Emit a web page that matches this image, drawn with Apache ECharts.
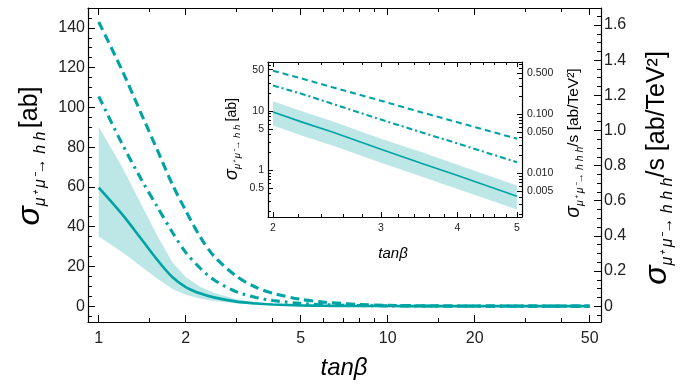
<!DOCTYPE html>
<html><head><meta charset="utf-8">
<script src="https://cdn.jsdelivr.net/npm/echarts@6/dist/echarts.min.js"></script>
<style>html,body{margin:0;padding:0;background:#fff}#c{width:680px;height:390px}</style>
</head><body><div id="c"></div>
<script>
// ---- data ----
const tanBeta = [1, 1.2, 1.4, 1.6, 1.8, 2, 2.25, 2.5, 3, 3.5, 4, 5, 6, 7, 8, 10, 15, 20, 30, 50];
// sigma(mu+ mu- -> h h) [ab]  (solid line + band, left axes)
const sigmaHH      = [59.6, 46.5, 34, 23, 14.5, 9.6, 6.3, 4.4, 2.25, 1.3, 0.81, 0.36, 0.18, 0.1, 0.06, 0.025, 0.006, 0.002, 0.0005, 0.0001];
const sigmaHHUpper = [90.3, 70.5, 51.5, 35, 22, 14.6, 9.6, 6.7, 3.4, 2.0, 1.23, 0.55, 0.27, 0.15, 0.09, 0.04, 0.009, 0.003, 0.0008, 0.0002];
const sigmaHHLower = [35, 27.4, 20, 13.6, 8.6, 5.7, 3.7, 2.6, 1.33, 0.77, 0.48, 0.215, 0.11, 0.06, 0.036, 0.015, 0.0036, 0.0012, 0.0003, 0.00006];
// sigma(mu+ mu- -> h h h)/s [ab/TeV^2] (dashed / dot-dashed, right axes)
const sigmaHHHDashed  = [1.617, 1.348, 1.099, 0.883, 0.691, 0.544, 0.391, 0.286, 0.169, 0.107, 0.073, 0.0385, 0.0226, 0.0147, 0.0096, 0.0045, 0.0011, 0.00045, 0.00011, 0.00002];
const sigmaHHHDotDash = [1.194, 0.929, 0.725, 0.561, 0.419, 0.306, 0.214, 0.150, 0.081, 0.049, 0.032, 0.0154, 0.0085, 0.0051, 0.0034, 0.0015, 0.00034, 0.00014, 0.00003, 0.000008];

// ticks
const mainXTicks = [1, 2, 5, 10, 20, 50];
const mainXMinor = [1.5, 3, 4, 6, 7, 8, 9, 15, 30, 40];
const mainLeftTicks = [0, 20, 40, 60, 80, 100, 120, 140];
const mainLeftMinor = [-5, 5, 10, 15, 25, 30, 35, 45, 50, 55, 65, 70, 75, 85, 90, 95, 105, 110, 115, 125, 130, 135, 145];
const mainRightTicks = [0, 0.2, 0.4, 0.6, 0.8, 1.0, 1.2, 1.4, 1.6];
const mainRightMinor = [-0.05, 0.05, 0.1, 0.15, 0.25, 0.3, 0.35, 0.45, 0.5, 0.55, 0.65, 0.7, 0.75, 0.85, 0.9, 0.95, 1.05, 1.1, 1.15, 1.25, 1.3, 1.35, 1.45, 1.5, 1.55, 1.65];
const insetXTicks = [2, 3, 4, 5];
const insetXMinor = [2.2, 2.4, 2.6, 2.8, 3.2, 3.4, 3.6, 3.8, 4.2, 4.4, 4.6, 4.8];
const insetLeftTicks = [0.5, 1, 5, 10, 50];
const insetLeftMinor = [0.2, 0.3, 0.4, 0.6, 0.7, 0.8, 0.9, 2, 3, 4, 6, 7, 8, 9, 20, 30, 40, 60];
const insetRightTicks = [0.005, 0.01, 0.05, 0.1, 0.5];
const insetRightMinor = [0.002, 0.003, 0.004, 0.006, 0.007, 0.008, 0.009, 0.02, 0.03, 0.04, 0.06, 0.07, 0.08, 0.09, 0.2, 0.3, 0.4, 0.6, 0.7];

// ---- style ----
const TEAL = '#00a3a3';
const BAND = 'rgba(0,163,163,0.26)';
const FONT = 'Liberation Sans';

const chart = echarts.init(document.getElementById('c'), null, {renderer: 'canvas'});

function mkAxis(opts) {
  const o = {
    type: opts.type, gridIndex: opts.grid, position: opts.position,
    min: opts.min, max: opts.max,
    axisLine: {show: !!opts.line, onZero: false, lineStyle: {color: '#000', width: 1.2}},
    axisTick: {show: true, inside: true, length: opts.len, customValues: opts.ticks, lineStyle: {color: '#000', width: 1}},
    axisLabel: opts.label ? Object.assign({show: true, customValues: opts.ticks, color: '#222', fontFamily: FONT}, opts.label) : {show: false},
    splitLine: {show: false}
  };
  if (opts.type === 'log') o.logBase = 10;
  return o;
}

const mainX = {type: 'log', grid: 0, min: 0.918, max: 54.7};
const mainL = {type: 'value', grid: 0, min: -8, max: 150};
const mainR = {type: 'value', grid: 0, min: -0.0905, max: 1.697};
const inX = {type: 'log', grid: 1, min: 1.963, max: 5.096};
const inL = {type: 'log', grid: 1, min: 0.161, max: 67.5};
const inR = {type: 'log', grid: 1, min: 0.00182, max: 0.764};

const xAxis = [
  mkAxis(Object.assign({}, mainX, {position: 'bottom', ticks: mainXTicks, len: 7, line: true, label: {fontSize: 16, margin: 9}})),
  mkAxis(Object.assign({}, mainX, {position: 'bottom', ticks: mainXMinor, len: 4})),
  mkAxis(Object.assign({}, mainX, {position: 'top', ticks: mainXTicks, len: 7, line: true})),
  mkAxis(Object.assign({}, mainX, {position: 'top', ticks: mainXMinor, len: 4})),
  mkAxis(Object.assign({}, inX, {position: 'bottom', ticks: insetXTicks, len: 5, line: true, label: {fontSize: 10.5, margin: 6}})),
  mkAxis(Object.assign({}, inX, {position: 'bottom', ticks: insetXMinor, len: 3})),
  mkAxis(Object.assign({}, inX, {position: 'top', ticks: insetXTicks, len: 5, line: true})),
  mkAxis(Object.assign({}, inX, {position: 'top', ticks: insetXMinor, len: 3}))
];
const yAxis = [
  mkAxis(Object.assign({}, mainL, {position: 'left', ticks: mainLeftTicks, len: 7, line: true, label: {fontSize: 16, margin: 3}})),
  mkAxis(Object.assign({}, mainL, {position: 'left', ticks: mainLeftMinor, len: 4})),
  mkAxis(Object.assign({}, mainR, {position: 'right', ticks: mainRightTicks, len: 7, line: true,
    label: {fontSize: 16, margin: 3, formatter: v => (Math.abs(v) < 1e-9 ? '0' : v.toFixed(1))}})),
  mkAxis(Object.assign({}, mainR, {position: 'right', ticks: mainRightMinor, len: 4})),
  mkAxis(Object.assign({}, inL, {position: 'left', ticks: insetLeftTicks, len: 5, line: true, label: {fontSize: 10.5, margin: 4, formatter: v => String(v)}})),
  mkAxis(Object.assign({}, inL, {position: 'left', ticks: insetLeftMinor, len: 3})),
  mkAxis(Object.assign({}, inR, {position: 'right', ticks: insetRightTicks, len: 5, line: true, label: {fontSize: 10.5, margin: 5, formatter: v => v.toFixed(3)}})),
  mkAxis(Object.assign({}, inR, {position: 'right', ticks: insetRightMinor, len: 3}))
];

function pairs(ys, lo, hi) {
  const out = [];
  tanBeta.forEach((t, i) => { if (t >= lo && t <= hi) out.push([t, ys[i]]); });
  return out;
}
function bandRows(lo, hi) {
  const out = [];
  tanBeta.forEach((t, i) => { if (t >= lo && t <= hi) out.push([t, sigmaHHLower[i], sigmaHHUpper[i]]); });
  return out;
}

function bandSeries(xi, yi, lo, hi) {
  const rows = bandRows(lo, hi);
  return {
    type: 'custom', xAxisIndex: xi, yAxisIndex: yi, silent: true, clip: true, z: 1,
    encode: {x: 0, y: [1, 2]},
    data: rows,
    renderItem: function (params, api) {
      if (params.dataIndex !== 0) return null;
      const up = rows.map(r => api.coord([r[0], r[2]]));
      const dn = rows.slice().reverse().map(r => api.coord([r[0], r[1]]));
      return {type: 'polygon', shape: {points: up.concat(dn)}, style: {fill: BAND, stroke: null}};
    }
  };
}

function seriesSet(xi, yl, yr, lo, hi, w, dash, dotdash, smooth) {
  const base = {type: 'line', xAxisIndex: xi, showSymbol: false, symbol: 'none', smooth: smooth, silent: true, animation: false, z: 3};
  return [
    bandSeries(xi, yl, lo, hi),
    Object.assign({}, base, {yAxisIndex: yl, data: pairs(sigmaHH, lo, hi), lineStyle: {color: TEAL, width: w, cap: 'butt'}}),
    Object.assign({}, base, {yAxisIndex: yr, data: pairs(sigmaHHHDashed, lo, hi), lineStyle: {color: TEAL, width: w + 0.5, type: dash, cap: 'butt'}}),
    Object.assign({}, base, {yAxisIndex: yr, data: pairs(sigmaHHHDotDash, lo, hi), lineStyle: {color: TEAL, width: w + 0.5, type: dotdash, cap: 'butt'}})
  ];
}

const series = [].concat(
  seriesSet(0, 0, 2, 1, 50, 2.6, [9, 5], [9, 5, 2.5, 5], 0.3),
  seriesSet(4, 4, 6, 2, 5, 1.6, [6, 4], [6, 3, 2, 3], false)
);

function titleRich(big, sub, small, rest) {
  return {
    s: {fontFamily: FONT, fontStyle: 'italic', fontSize: big, lineHeight: big * 1.15, verticalAlign: 'middle', fill: '#000'},
    sub: {fontFamily: FONT, fontStyle: 'italic', fontSize: small, lineHeight: small, verticalAlign: 'bottom', fill: '#000'},
    n: {fontFamily: FONT, fontSize: rest, lineHeight: big * 1.15, verticalAlign: 'middle', fill: '#000'}
  };
}

const graphic = [
  {type: 'text', x: 30, y: 156, rotation: Math.PI / 2, silent: true,
   style: {text: '{s|σ}{sub|μ⁺ μ⁻→ h h} {n|[ab]}', rich: titleRich(32, 16, 16, 25), align: 'center', verticalAlign: 'middle'}},
  {type: 'text', x: 657, y: 168, rotation: Math.PI / 2, silent: true,
   style: {text: '{s|σ}{sub|μ⁺ μ⁻→ h h h}{n|/s [ab/TeV²]}', rich: titleRich(32, 16, 16, 25), align: 'center', verticalAlign: 'middle'}},
  {type: 'text', x: 344, y: 368, silent: true,
   style: {text: 'tanβ', font: 'italic 24px "Liberation Sans"', fill: '#000', align: 'center', verticalAlign: 'middle'}},
  {type: 'text', x: 232, y: 139, rotation: Math.PI / 2, silent: true,
   style: {text: '{s|σ}{sub|μ⁺ μ⁻→ h h} {n|[ab]}', rich: titleRich(18, 9.5, 9.5, 14), align: 'center', verticalAlign: 'middle'}},
  {type: 'text', x: 574, y: 143, rotation: Math.PI / 2, silent: true,
   style: {text: '{s|σ}{sub|μ⁺ μ⁻→ h h h}{n|/s [ab/TeV²]}', rich: titleRich(19.5, 10.5, 10.5, 15.5), align: 'center', verticalAlign: 'middle'}},
  {type: 'text', x: 393, y: 254, silent: true,
   style: {text: 'tanβ', font: 'italic 15px "Liberation Sans"', fill: '#000', align: 'center', verticalAlign: 'middle'}}
];

chart.setOption({
  animation: false,
  backgroundColor: '#fff',
  grid: [
    {left: 88, top: 8, width: 513, height: 314, containLabel: false},
    {left: 268, top: 62, width: 254, height: 155, containLabel: false}
  ],
  xAxis: xAxis,
  yAxis: yAxis,
  series: series,
  graphic: graphic
});
</script></body></html>
